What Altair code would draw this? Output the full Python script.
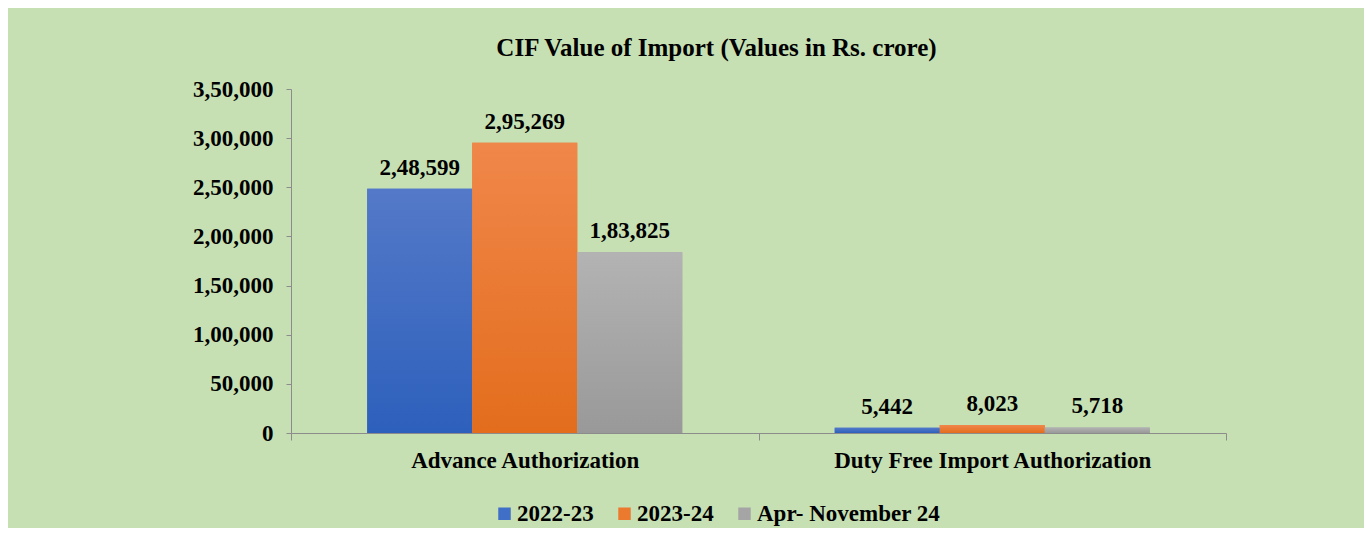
import altair as alt
import pandas as pd

categories = ["Advance Authorization", "Duty Free Import Authorization"]
series = ["2022-23", "2023-24", "Apr- November 24"]
values_2022_23 = [248599, 5442]
values_2023_24 = [295269, 8023]
values_apr_nov_24 = [183825, 5718]
y_ticks = [0, 50000, 100000, 150000, 200000, 250000, 300000, 350000]
colors = ["#3f6fc6", "#ec7a2e", "#a5a5a5"]
gradient_tops = ["#5479c8", "#f0874a", "#b3b3b3"]
gradient_bottoms = ["#2d60bc", "#e36d1d", "#999999"]

rows = []
for s, vals in zip(series, [values_2022_23, values_2023_24, values_apr_nov_24]):
    for c, v in zip(categories, vals):
        rows.append({"category": c, "series": s, "value": v})
df = pd.DataFrame(rows)

FONT = "Liberation Serif"
FS = 23


def indian(expr):
    return (f"{expr} < 100000 ? format({expr}, ',') : "
            f"floor({expr}/100000) + ',' + format(floor(({expr} % 100000)/1000), '02d') + ',' + format({expr} % 1000, '03d')")


base = alt.Chart(df).transform_calculate(
    label=indian("datum.value")
).encode(
    x=alt.X("category:N", sort=categories,
            scale=alt.Scale(paddingInner=0, paddingOuter=0),
            axis=alt.Axis(title=None, labelAngle=0, tickBand="extent", labelLimit=0,
                          domainColor="#8c8c8c", tickColor="#8c8c8c", tickSize=7,
                          labelFont=FONT, labelFontSize=FS, labelFontWeight="bold",
                          labelColor="black", labelPadding=9)),
    xOffset=alt.XOffset("series:N", sort=series,
                        scale=alt.Scale(paddingInner=0, paddingOuter=0.726)),
    y=alt.Y("value:Q", scale=alt.Scale(domain=[0, 350000]),
            axis=alt.Axis(title=None, values=y_ticks, labelExpr=indian("datum.value"),
                          grid=False, domainColor="#8c8c8c", tickColor="#8c8c8c",
                          tickSize=5, labelFont=FONT, labelFontSize=FS,
                          labelFontWeight="bold", labelColor="black", labelPadding=13)),
)

bars = base.mark_bar().encode(
    color=alt.Color("series:N", sort=series,
                    scale=alt.Scale(domain=series, range=colors),
                    legend=alt.Legend(title=None, orient="none", direction="horizontal",
                                      legendX=202, legendY=413, padding=0,
                                      symbolType="square", symbolSize=156,
                                      symbolStrokeWidth=0, symbolOpacity=1,
                                      labelFont=FONT, labelFontSize=FS,
                                      labelFontWeight="bold", labelColor="black",
                                      labelLimit=0, columnPadding=19, labelOffset=1))
)

grad_layers = []
for s, top, bottom in zip(series, gradient_tops, gradient_bottoms):
    grad_layers.append(
        base.transform_filter(alt.datum.series == s).mark_bar(
            fill=alt.LinearGradient(
                gradient="linear", x1=0, x2=0, y1=0, y2=1,
                stops=[alt.GradientStop(offset=0, color=top),
                       alt.GradientStop(offset=1, color=bottom)]))
    )

labels = base.mark_text(dy=-14, baseline="alphabetic", font=FONT, fontSize=FS,
                        fontWeight="bold", color="black").encode(text="label:N")

chart = alt.layer(bars, *grad_layers, labels).properties(
    width=935,
    height=344,
    title=alt.Title("CIF Value of Import (Values in Rs. crore)", font=FONT, fontSize=25,
                    fontWeight="bold", color="black", anchor="middle", dx=-42,
                    offset=17),
    autosize=alt.AutoSizeParams(type="none"),
    padding={"left": 283, "top": 81, "right": 138, "bottom": 95},
    background="#c6e0b4",
).configure_view(stroke=None)

chart.save("out.html", embed_options={"renderer": "svg", "actions": False})
